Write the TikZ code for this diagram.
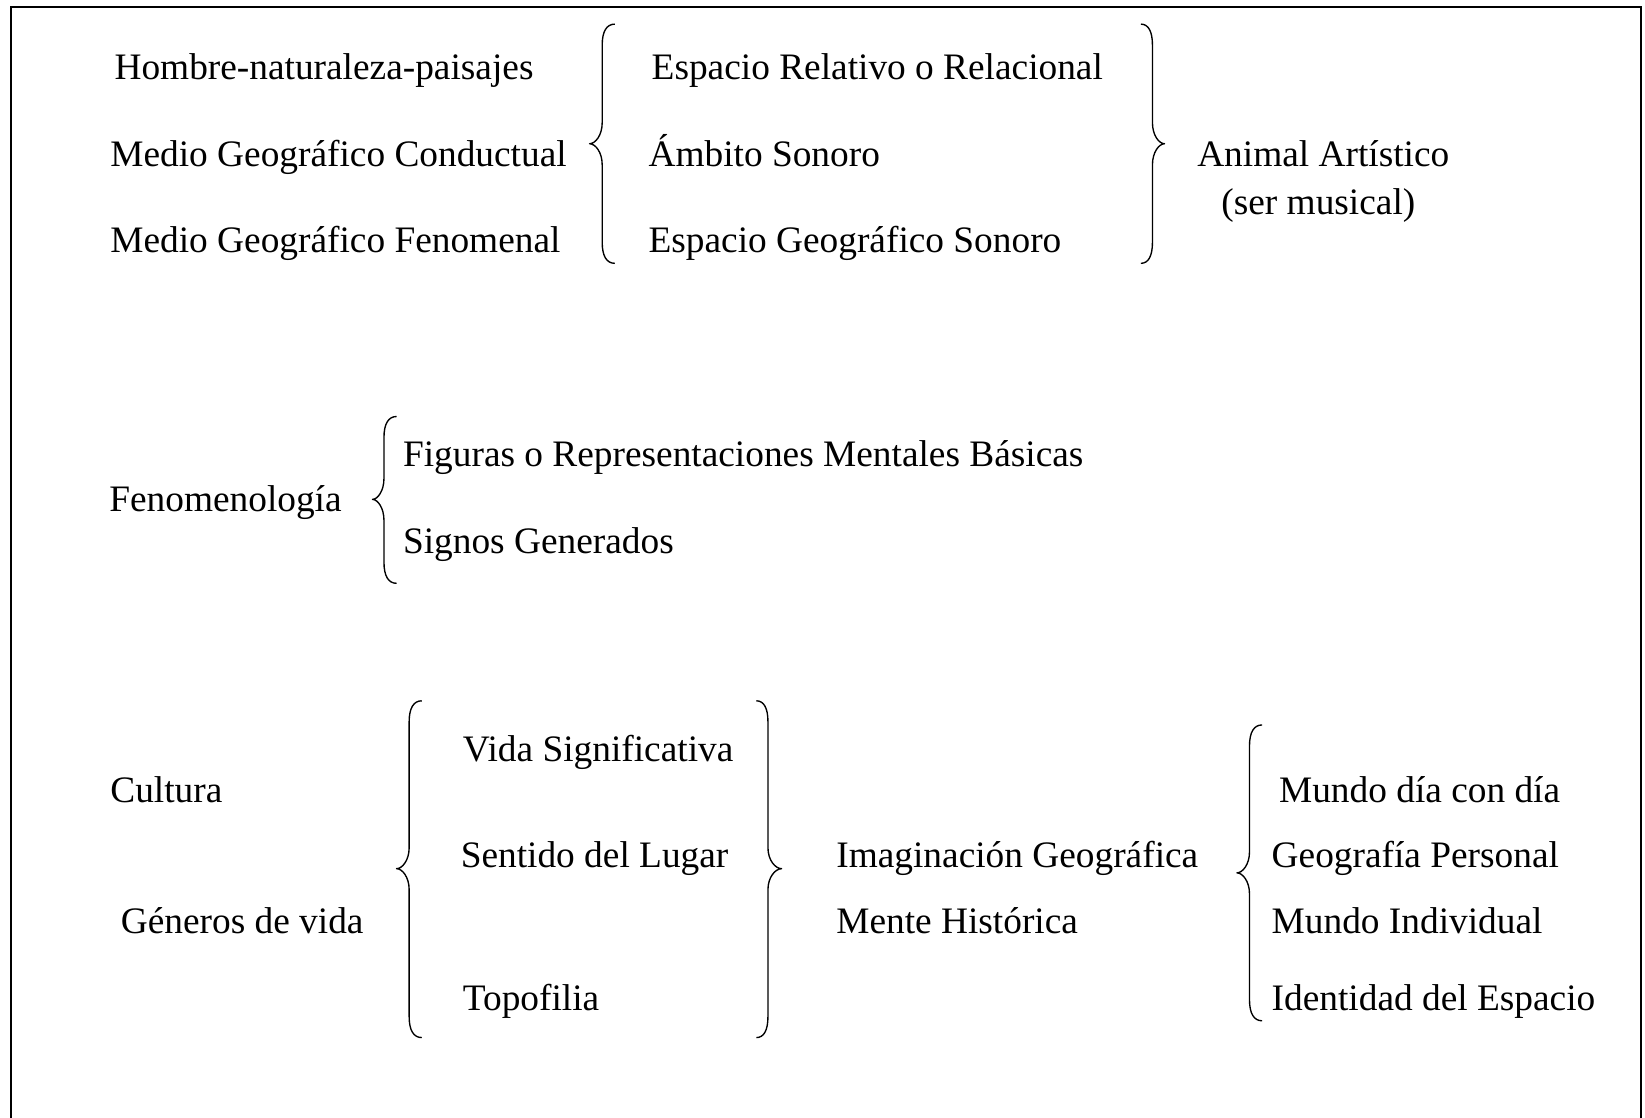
\documentclass[tikz,border=0pt]{standalone}
\usepackage{fontspec}
\setmainfont{Liberation Serif}
\newcommand\BraceL[6]{\draw[bracestyle] (#1,#4) .. controls ({#2+0.35*(#1-#2)},#4) and (#2,#4+7) .. (#2,#4+20) -- (#2,#6-20) .. controls (#2,#6-8) and ({#3+0.45*(#2-#3)},#6) .. (#3,#6) .. controls ({#3+0.45*(#2-#3)},#6) and (#2,#6+8) .. (#2,#6+20) -- (#2,#5-20) .. controls (#2,#5-7) and ({#2+0.35*(#1-#2)},#5) .. (#1,#5);}
\begin{document}
\begin{tikzpicture}[x=1pt,y=-1pt,
  lbl/.style={anchor=base west, inner sep=0pt, font=\fontsize{35.6}{40}\selectfont},
  bracestyle/.style={line width=1.3pt, line join=round},
  frame/.style={line width=1.8pt}]
\useasboundingbox (0,0) rectangle (1568,1065.6);
\fill[white] (0,0) rectangle (1568,1065.6);
\draw[frame] (10.5,1065.6) -- (10.5,6.5) -- (1564.5,6.5) -- (1564.5,1065.6);
% top section
\node[lbl] (hombre) at (109,75.5) {Hombre-naturaleza-paisajes};
\node[lbl] (medioC) at (105,158.5) {Medio Geográfico Conductual};
\node[lbl] (medioF) at (105,240.5) {Medio Geográfico Fenomenal};
\node[lbl] (espRel) at (621,75.5) {Espacio Relativo o Relacional};
\node[lbl] (ambito) at (618,158.5) {Ámbito Sonoro};
\node[lbl] (espGeo) at (618,240.5) {Espacio Geográfico Sonoro};
\node[lbl] (animal) at (1141,158.5) {Animal Artístico};
\node[lbl] (ser) at (1164,204.5) {(ser musical)};
\BraceL{586}{574}{562}{23}{251}{137}
\BraceL{1087.5}{1098.5}{1110}{23}{251}{137}
% middle section
\node[lbl] (fenom) at (104,487.5) {Fenomenología};
\node[lbl] (figuras) at (384,444.5) {Figuras o Representaciones Mentales Básicas};
\node[lbl] (signos) at (384,527.5) {Signos Generados};
\BraceL{378}{366}{355}{397}{556}{476}
% bottom section
\node[lbl] (cultura) at (105,764.5) {Cultura};
\node[lbl] (generos) at (115,889.5) {Géneros de vida};
\node[lbl] (vida) at (441,725.5) {Vida Significativa};
\node[lbl] (sentido) at (439,826.5) {Sentido del Lugar};
\node[lbl] (topofilia) at (441,963.5) {Topofilia};
\node[lbl] (imag) at (797,826.5) {Imaginación Geográfica};
\node[lbl] (mente) at (797,889.5) {Mente Histórica};
\node[lbl] (mundo) at (1219,764.5) {Mundo día con día};
\node[lbl] (geoP) at (1212,826.5) {Geografía Personal};
\node[lbl] (mundoI) at (1212,889.5) {Mundo Individual};
\node[lbl] (ident) at (1212,963.5) {Identidad del Espacio};
\BraceL{402}{390}{378}{668}{989}{828}
\BraceL{721}{732}{745}{668}{989}{828}
\BraceL{1203}{1191}{1179}{691}{973}{832}
\end{tikzpicture}
\end{document}
